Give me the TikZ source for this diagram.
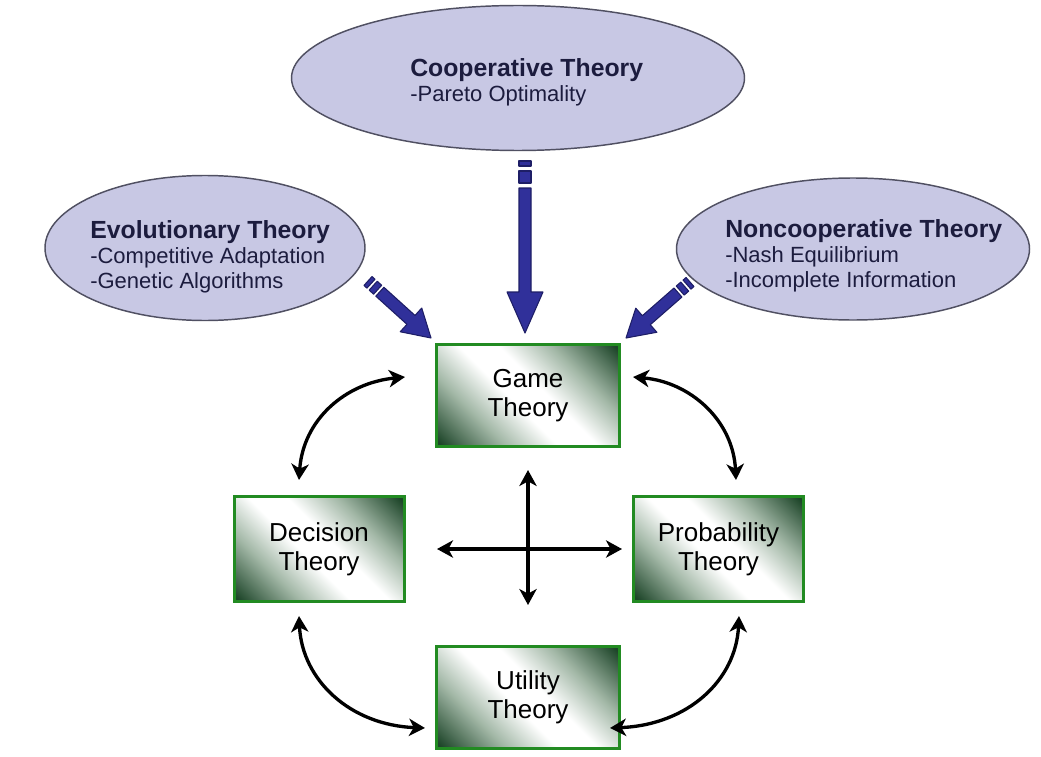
\documentclass[tikz,border=0pt]{standalone}
\usepackage{fontspec}
\setmainfont{Liberation Sans}
\usetikzlibrary{calc,arrows.meta,shapes.geometric}
\definecolor{boxdark}{HTML}{1D4529}
\definecolor{boxmid}{HTML}{A3B8A7}
\definecolor{boxgreen}{HTML}{228B22}
\definecolor{ellfill}{HTML}{C8C8E4}
\definecolor{elldraw}{HTML}{505062}
\definecolor{elltext}{HTML}{1C1C3E}
\definecolor{bluefill}{HTML}{30309A}
\definecolor{bluedraw}{HTML}{1E1E66}
\pgfdeclarehorizontalshading{boxshade}{100bp}{color(0bp)=(boxdark); color(16bp)=(boxdark); color(32bp)=(boxmid); color(45bp)=(white); color(55bp)=(white); color(68bp)=(boxmid); color(84bp)=(boxdark); color(100bp)=(boxdark)}
\newcommand\ellhead[1]{{\fontsize{18.6pt}{18.75pt}\selectfont\bfseries #1}}
% block arrow: #1 start, #2 tip, #3 dash1, #4 gap, #5 dash2, #6 head length, #7 head half width
\newcommand\bluearrow[7]{%
  \coordinate (ba1) at ($(#1)!#3!(#2)$);
  \coordinate (ba2) at ($(ba1)!#4!(#2)$);
  \coordinate (ba3) at ($(ba2)!#5!(#2)$);
  \coordinate (ba4) at ($(ba3)!#4!(#2)$);
  \coordinate (ba5) at ($(#2)!#6!(#1)$);
  \filldraw[bluearr] ($(#1)!4.5pt!90:(#2)$) -- ($(ba1)!4.5pt!90:(#2)$) -- ($(ba1)!4.5pt!-90:(#2)$) -- ($(#1)!4.5pt!-90:(#2)$) -- cycle;
  \filldraw[bluearr] ($(ba2)!4.5pt!90:(#2)$) -- ($(ba3)!4.5pt!90:(#2)$) -- ($(ba3)!4.5pt!-90:(#2)$) -- ($(ba2)!4.5pt!-90:(#2)$) -- cycle;
  \filldraw[bluearr] ($(ba4)!4.5pt!90:(#2)$) -- ($(ba5)!4.5pt!90:(#2)$) -- ($(ba5)!#7!90:(#2)$) -- (#2) -- ($(ba5)!#7!-90:(#2)$) -- ($(ba5)!4.5pt!-90:(#2)$) -- ($(ba4)!4.5pt!-90:(#2)$) -- cycle;
}
\begin{document}
\begin{tikzpicture}[x=0.75pt,y=-0.75pt,
  ell/.style={ellipse, draw=elldraw, line width=1.1pt, fill=ellfill, inner sep=0pt},
  etext/.style={anchor=north west, align=left, inner sep=0pt, text=elltext, font=\fontsize{16.5pt}{18.75pt}\selectfont},
  gbox/.style={rectangle, draw=boxgreen, line width=2.25pt, shade, shading=boxshade, shading angle=45, align=center, inner sep=0pt, font=\fontsize{19.5pt}{21.75pt}\selectfont},
  bluearr/.style={fill=bluefill, draw=bluedraw, line width=0.8pt, line join=round},
  link/.style={line width=2.5pt, {Stealth[length=12pt,width=13pt,inset=3.5pt]}-{Stealth[length=12pt,width=13pt,inset=3.5pt]}}]
\useasboundingbox[fill=white] (0,0) rectangle (1041,756);

% ellipses
\node[ell, minimum width=339.75pt, minimum height=108.75pt] (coop) at (518,78) {};
\node[ell, minimum width=240pt, minimum height=108.75pt] (evo) at (205,248) {};
\node[ell, minimum width=264.75pt, minimum height=106.5pt] (noncoop) at (853,249) {};
\node[etext] (cooptext) at (410,58) {\ellhead{Cooperative Theory}\\-Pareto Optimality};
\node[etext] (evotext) at (90,220) {\ellhead{Evolutionary Theory}\\-Competitive Adaptation\\-Genetic Algorithms};
\node[etext] (noncooptext) at (725,219) {\ellhead{Noncooperative Theory}\\-Nash Equilibrium\\-Incomplete Information};

% boxes
\node[gbox, minimum width=137.25pt, minimum height=76.5pt] (game) at (528,395.5) {Game\\Theory};
\node[gbox, minimum width=127.5pt, minimum height=78.75pt] (decision) at (319,549) {Decision\\Theory};
\node[gbox, minimum width=127.5pt, minimum height=78.75pt] (prob) at (718.5,549) {Probability\\Theory};
\node[gbox, minimum width=137.25pt, minimum height=76.5pt] (utility) at (528,697.5) {Utility\\Theory};

% blue block arrows
\coordinate (coopS) at (525,161);
\coordinate (coopT) at (525,333);
\coordinate (evoS) at (368,281);
\coordinate (evoT) at (431,338);
\coordinate (noncoopS) at (690,282);
\coordinate (noncoopT) at (626,338);
\bluearrow{coopS}{coopT}{3.75pt}{3.75pt}{9pt}{30.75pt}{13.5pt}
\bluearrow{evoS}{evoT}{3pt}{2.25pt}{4.5pt}{20.25pt}{12pt}
\bluearrow{noncoopS}{noncoopT}{3pt}{2.25pt}{4.5pt}{20.25pt}{12pt}

% black curved links
\coordinate (gdA) at (405,377);
\coordinate (gdB) at (299,480);
\draw[link] (gdB) .. controls (303,420) and (345,383) .. (gdA);
\coordinate (gpA) at (633,377);
\coordinate (gpB) at (736,480);
\draw[link] (gpA) .. controls (690,382) and (733,420) .. (gpB);
\coordinate (duA) at (299,616);
\coordinate (duB) at (425,728);
\draw[link] (duA) .. controls (302,680) and (350,725) .. (duB);
\coordinate (puA) at (739,616);
\coordinate (puB) at (610,728);
\draw[link] (puA) .. controls (736,680) and (688,725) .. (puB);

% cross
\coordinate (vT) at (528,470);
\coordinate (vB) at (528,605);
\coordinate (hL) at (437,549);
\coordinate (hR) at (622,549);
\draw[link] (vT) -- (vB);
\draw[link] (hL) -- (hR);
\end{tikzpicture}
\end{document}
